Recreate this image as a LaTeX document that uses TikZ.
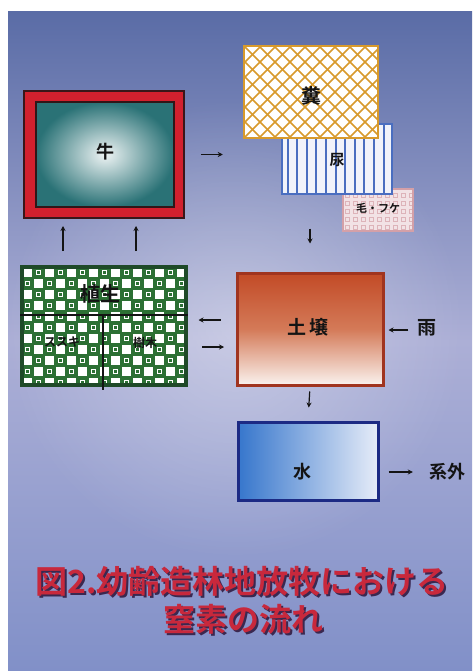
\documentclass[tikz,border=0pt]{standalone}
\usepackage{fontspec}
\newfontfamily\jp{Noto Sans CJK JP}[BoldFont={Noto Sans CJK JP Bold}]
\usetikzlibrary{arrows.meta,calc,fadings}
\definecolor{bgtop}{HTML}{5A6CA6}
\definecolor{bgmid}{HTML}{ACAFD6}
\definecolor{bgbot}{HTML}{8190C8}
\definecolor{cowred}{HTML}{D2202E}
\definecolor{cowteal}{HTML}{2A7276}
\definecolor{dungor}{HTML}{D89A2C}
\definecolor{urblue}{HTML}{4A6EC0}
\definecolor{furpink}{HTML}{D4A0A8}
\definecolor{vegdark}{HTML}{1F4A28}
\definecolor{veggreen}{HTML}{2C7034}
\definecolor{soiltop}{HTML}{C24A26}
\definecolor{soilmid}{HTML}{D47A58}
\definecolor{soilbot}{HTML}{FAF2EE}
\definecolor{soilline}{HTML}{A0341F}
\definecolor{waterl}{HTML}{3676CC}
\definecolor{waterr}{HTML}{E6ECF8}
\definecolor{waterline}{HTML}{1C2A84}
\definecolor{titred}{HTML}{C8283C}
\definecolor{titshadow}{HTML}{3A2850}
\definecolor{ink}{HTML}{141414}
\tikzfading[name=softglow, inner color=transparent!0, outer color=transparent!100]
\newcommand{\shadowed}[1]{\rlap{\raisebox{-2pt}{\kern2pt\textcolor{titshadow}{#1}}}\textcolor{titred}{#1}}
\tikzset{
  arr/.style={-{Stealth[length=5pt,width=5pt]}, line width=1.2pt, ink},
  lbl/.style={font=\jp\bfseries, text=ink, inner sep=0pt},
  boxbase/.style={rectangle, inner sep=0pt},
  titlefont/.style={font=\jp\bfseries\fontsize{32pt}{32pt}\selectfont, inner sep=0pt},
}
\begin{document}
\begin{tikzpicture}[x=1pt,y=-1pt]
\useasboundingbox (0,0) rectangle (472,671);
\fill[white] (0,0) rectangle (472,671);
\shade[top color=bgtop, bottom color=bgbot, middle color=bgmid] (8,12) rectangle (472,671);
\fill[white, opacity=0.35, path fading=softglow] (235,330) ellipse (230 and 230);

% fur / dandruff box
\node[boxbase, minimum width=70pt, minimum height=42pt, fill=furpink!30, draw=furpink, line width=2pt,
  path picture={
    \foreach \j in {0,...,5}{\foreach \i in {0,...,9}{
      \draw[furpink!80, line width=0.8pt] ([xshift=\i*8pt+2pt, yshift=\j*8pt+2pt]path picture bounding box.south west) rectangle ++(4pt,4pt);
    }}
  }] (fur) at (378,210) {};
\node[lbl, font=\jp\bfseries\fontsize{11pt}{11pt}\selectfont] (furt) at (378,208) {毛・フケ};

% urine box
\node[boxbase, minimum width=110pt, minimum height=70pt, fill=white!92!urblue, draw=urblue, line width=2pt,
  path picture={
    \foreach \i in {1,...,12}{
      \draw[urblue, line width=2pt] ([xshift=\i*9.6pt-4pt]path picture bounding box.south west) -- ([xshift=\i*9.6pt-4pt]path picture bounding box.north west);
    }
  }] (urine) at (337,159) {};
\node[lbl, font=\jp\bfseries\fontsize{15pt}{15pt}\selectfont] (urinet) at (337,160) {尿};

% dung box
\node[boxbase, minimum width=134pt, minimum height=92pt, fill=white, draw=dungor, line width=2pt,
  path picture={
    \foreach \i in {-8,...,11}{
      \draw[dungor, line width=1.6pt] ([xshift=\i*15pt]path picture bounding box.south west) -- ++(120pt,120pt);
      \draw[dungor, line width=1.6pt] ([xshift=\i*15pt]path picture bounding box.north west) -- ++(120pt,-120pt);
    }
  }] (dung) at (311,92) {};
\node[lbl, font=\jp\bfseries\fontsize{20pt}{20pt}\selectfont] (dungt) at (311,96) {糞};

% cow box
\node[boxbase, minimum width=160pt, minimum height=127pt, fill=cowred, draw=ink!80!cowred, line width=1.5pt] (cow) at (104,154.5) {};
\node[boxbase, minimum width=138pt, minimum height=105pt, draw=ink!85!cowred, line width=2pt,
  inner color=white!92!cowteal, outer color=cowteal] (cowin) at (105,154.5) {};
\node[lbl, font=\jp\bfseries\fontsize{18pt}{18pt}\selectfont] (cowt) at (105,152) {牛};

% vegetation box
\node[boxbase, minimum width=164pt, minimum height=118pt, fill=veggreen, draw=vegdark, line width=4pt,
  path picture={
    \foreach \j in {0,...,11}{\foreach \i in {0,...,15}{
      \pgfmathtruncatemacro\pv{mod(\i+\j,2)}
      \ifnum\pv=0
        \fill[white] ([xshift=\i*11pt+1pt, yshift=-\j*11pt-10pt]path picture bounding box.north west) rectangle ++(9pt,9pt);
      \else
        \draw[white, line width=1.2pt] ([xshift=\i*11pt+3.5pt, yshift=-\j*11pt-7.5pt]path picture bounding box.north west) rectangle ++(4pt,4pt);
      \fi
    }}
  }] (veg) at (104,326) {};
\draw[ink, line width=2pt] (veg.west |- 0,315) coordinate (vl) -- (veg.east |- 0,315) coordinate (vr);
\draw[ink, line width=2pt] (103,315) coordinate (vt) -- (103,390) coordinate (vb);
\node[lbl, font=\jp\bfseries\fontsize{20pt}{20pt}\selectfont] (vegt) at (100,294) {植生};
\node[lbl, font=\jp\bfseries\fontsize{12pt}{12pt}\selectfont] (grass) at (62,342) {ススキ};
\node[lbl, font=\jp\bfseries\fontsize{12pt}{12pt}\selectfont] (tree) at (145,343) {樹木};

% soil box
\node[boxbase, minimum width=146pt, minimum height=112pt, draw=soilline, line width=3pt,
  top color=soiltop, bottom color=soilbot, middle color=soilmid] (soil) at (310,329) {};
\node[lbl, font=\jp\bfseries\fontsize{19pt}{19pt}\selectfont] (soilt) at (308,327) {土\hspace{4pt}壌};

% water box
\node[boxbase, minimum width=140pt, minimum height=78pt, draw=waterline, line width=3pt,
  left color=waterl, right color=waterr] (water) at (308,461) {};
\node[lbl, font=\jp\bfseries\fontsize{18pt}{18pt}\selectfont] (watert) at (302,472) {水};

% outside labels
\node[lbl, font=\jp\bfseries\fontsize{19pt}{19pt}\selectfont] (rain) at (427,328) {雨};
\node[lbl, font=\jp\bfseries\fontsize{18pt}{18pt}\selectfont] (out) at (447,472) {系外};
\coordinate (rainend) at ([yshift=-2pt]rain.west);

% arrows
\draw[arr] ([xshift=16pt]cow.east) -- ([xshift=38pt]cow.east);
\draw[arr] ([yshift=43pt]soil.north) -- ([yshift=28pt]soil.north);
\draw[arr] ([xshift=-41pt,yshift=14pt]veg.north) -- ([xshift=-41pt,yshift=39pt]veg.north);
\draw[arr] ([xshift=32pt,yshift=14pt]veg.north) -- ([xshift=32pt,yshift=39pt]veg.north);
\draw[arr] ([xshift=-15pt,yshift=9pt]soil.west) -- ([xshift=-37pt,yshift=9pt]soil.west);
\draw[arr] ([xshift=14pt,yshift=-21pt]veg.east) -- ([xshift=36pt,yshift=-21pt]veg.east);
\draw[arr, shorten <=5pt, shorten >=13pt] (soil.south) -- (water.north);
\draw[arr, shorten <=9pt] (rainend) -- ([xshift=4pt]soil.east |- rainend);
\draw[arr] ([xshift=9pt]water.east |- out.west) -- ([xshift=-16pt]out.west);

% title
\node[titlefont] (t1) at (242,582) {\shadowed{図2.幼齢造林地放牧における}};
\node[titlefont] (t2) at (243,620) {\shadowed{窒素の流れ}};
\end{tikzpicture}
\end{document}
